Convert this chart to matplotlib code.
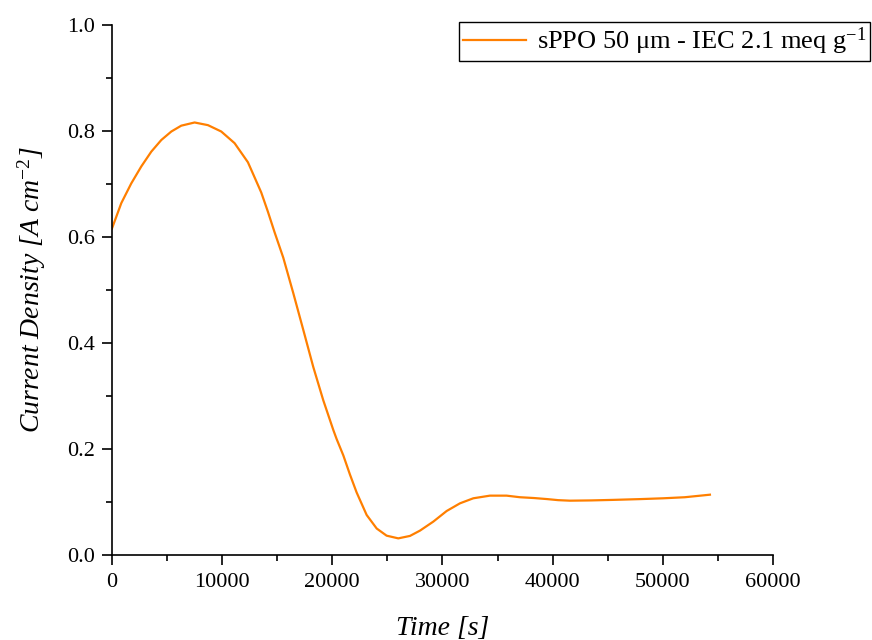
import numpy as np
import matplotlib.pyplot as plt

plt.rcParams['font.family'] = ['Liberation Serif', 'DejaVu Serif']
plt.rcParams['mathtext.fontset'] = 'custom'
plt.rcParams['mathtext.rm'] = 'Liberation Serif'
plt.rcParams['mathtext.it'] = 'Liberation Serif:italic'

# time [s] and current density [A cm-2]
time_s = [0, 850, 1750, 2660, 3570, 4480, 5390, 6290, 7500, 8710, 9920,
          11130, 12340, 12830, 13550, 14150, 14760, 15550, 16460, 17370,
          18270, 19180, 20090, 20390, 21000, 21300, 21600, 22210, 23120,
          24030, 24930, 25990, 27050, 27960, 29170, 30380, 31590, 32800,
          34310, 35820, 37030, 38300, 39500, 40500, 41570, 43500, 45500,
          48000, 50040, 52000, 54280]
current = [0.616, 0.664, 0.701, 0.733, 0.761, 0.783, 0.799, 0.810, 0.816, 0.811, 0.799,
           0.777, 0.741, 0.718, 0.684, 0.648, 0.609, 0.561, 0.494, 0.4245,
           0.355, 0.292, 0.236, 0.219, 0.188, 0.170, 0.152, 0.118, 0.0755,
           0.050, 0.0365, 0.0314, 0.036, 0.046, 0.063, 0.083, 0.0975, 0.107,
           0.112, 0.112, 0.109, 0.1075, 0.1055, 0.1035, 0.1025, 0.103, 0.104,
           0.1055, 0.107, 0.109, 0.1138]

fig = plt.figure(figsize=(8.72, 6.4), dpi=100)
ax = fig.add_axes([0.1284, 0.1328, 0.758, 0.8282])

ax.plot(time_s, current, color='#ff7f00', lw=1.6,
        label='sPPO 50 μm - IEC 2.1 meq g$^{-1}$')

ax.set_xlim(0, 60000)
ax.set_ylim(0, 1.0)
ax.set_xticks(np.arange(0, 60001, 10000))
ax.set_xticks(np.arange(5000, 60000, 10000), minor=True)
ax.set_yticks(np.arange(0, 1.01, 0.2))
ax.set_yticks(np.arange(0.1, 1.0, 0.2), minor=True)
ax.yaxis.set_major_formatter(plt.FormatStrFormatter('%.1f'))

for s in ['top', 'right']:
    ax.spines[s].set_visible(False)
for s in ['left', 'bottom']:
    ax.spines[s].set_linewidth(1.2)
ax.tick_params(which='major', direction='out', length=7, width=1.2, labelsize=16)
ax.tick_params(axis='x', which='major', pad=6)
ax.tick_params(axis='y', which='major', pad=5)
ax.tick_params(which='minor', direction='out', length=4, width=1.2)

ax.set_xlabel('Time [s]', fontsize=20, style='italic', labelpad=17)
ax.set_ylabel('Current Density [A cm$^{-2}$]', fontsize=20, style='italic', labelpad=14)

leg = ax.legend(loc='upper right', bbox_to_anchor=(870 / 872, 1 - 22 / 640),
                bbox_transform=fig.transFigure, borderaxespad=0, fontsize=19,
                fancybox=False, edgecolor='black', framealpha=1,
                handlelength=2.4, handletextpad=0.4, borderpad=0.15)
leg.get_frame().set_linewidth(1.0)

fig.savefig('out.png', dpi=100)
